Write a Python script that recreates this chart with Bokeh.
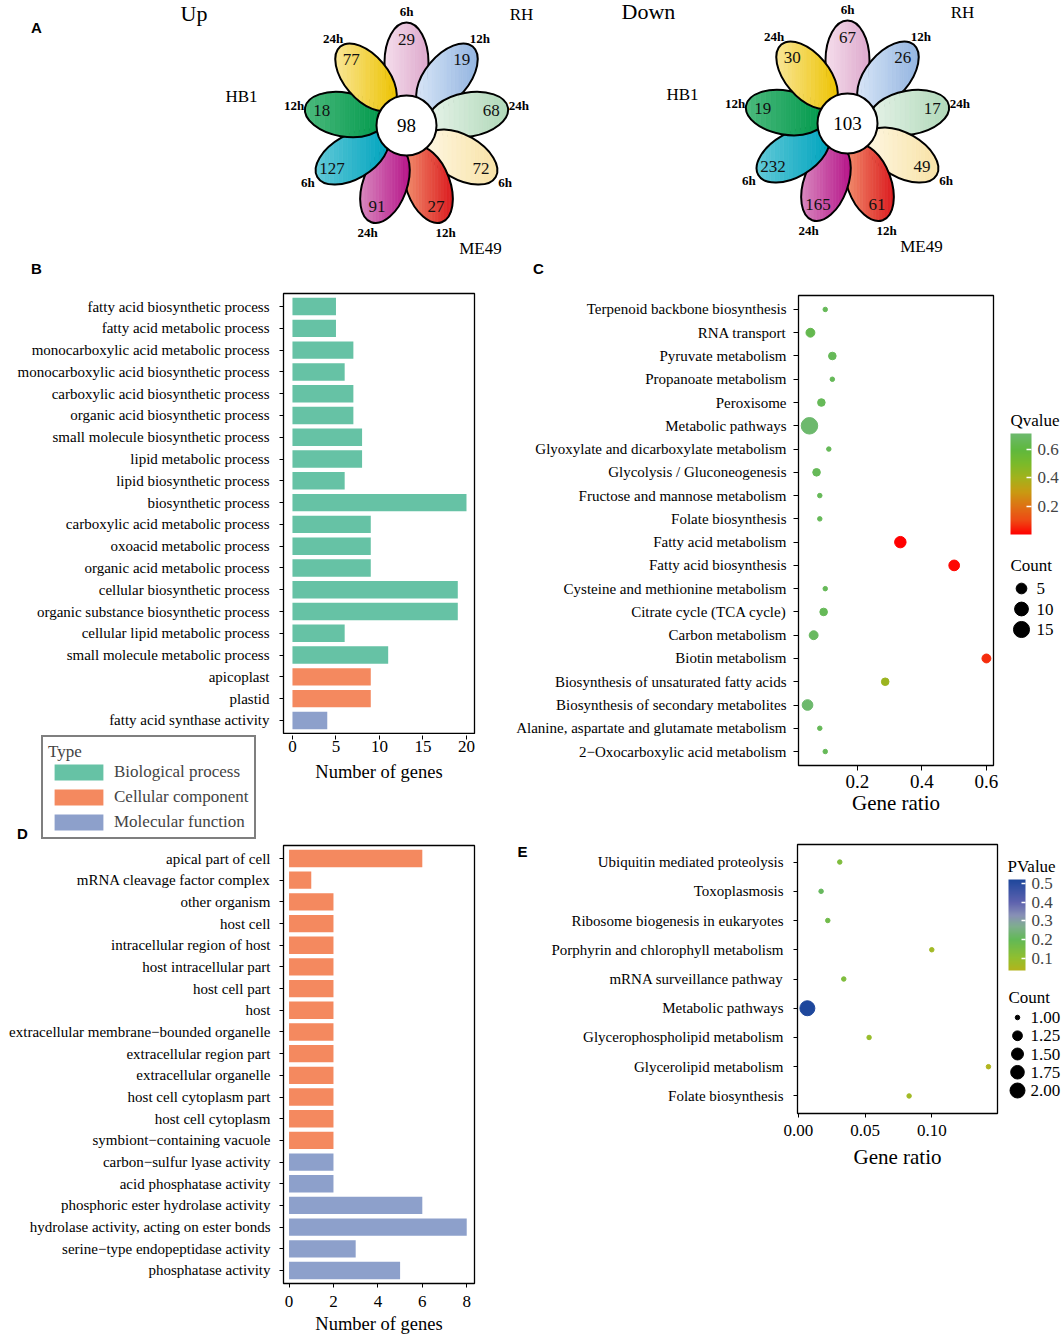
import numpy as np
from bokeh.plotting import figure
from bokeh.layouts import row, column
from bokeh.models import (Range1d, FactorRange, ColumnDataSource, FixedTicker, Legend,
                          LegendItem, ColorBar, LinearColorMapper, PrintfTickFormatter)
from bokeh.core.properties import value
from bokeh.transform import transform
from bokeh.embed import file_html
from bokeh.resources import INLINE

SERIF = "Liberation Serif"
SANS = "Liberation Sans"

# ---------------------------------------------------------------- data
flower_titles = ["Up", "Down"]
strains = ["RH", "ME49", "HB1"]
times = ["6h", "12h", "24h"]
# petal order: RH 6h/12h/24h, ME49 6h/12h/24h, HB1 6h/12h/24h
up_counts = [29, 19, 68, 72, 27, 91, 127, 18, 77]
down_counts = [67, 26, 17, 49, 61, 165, 232, 19, 30]
core_counts = [98, 103]

go_up_terms = [
    "fatty acid biosynthetic process", "fatty acid metabolic process",
    "monocarboxylic acid metabolic process", "monocarboxylic acid biosynthetic process",
    "carboxylic acid biosynthetic process", "organic acid biosynthetic process",
    "small molecule biosynthetic process", "lipid metabolic process",
    "lipid biosynthetic process", "biosynthetic process",
    "carboxylic acid metabolic process", "oxoacid metabolic process",
    "organic acid metabolic process", "cellular biosynthetic process",
    "organic substance biosynthetic process", "cellular lipid metabolic process",
    "small molecule metabolic process", "apicoplast", "plastid",
    "fatty acid synthase activity"]
go_up_counts = [5, 5, 7, 6, 7, 7, 8, 8, 6, 20, 9, 9, 9, 19, 19, 6, 11, 9, 9, 4]
go_up_types = ["Biological process"] * 17 + ["Cellular component"] * 2 + ["Molecular function"]

go_down_terms = [
    "apical part of cell", "mRNA cleavage factor complex", "other organism", "host cell",
    "intracellular region of host", "host intracellular part", "host cell part", "host",
    "extracellular membrane\u2212bounded organelle", "extracellular region part",
    "extracellular organelle", "host cell cytoplasm part", "host cell cytoplasm",
    "symbiont\u2212containing vacuole", "carbon\u2212sulfur lyase activity",
    "acid phosphatase activity", "phosphoric ester hydrolase activity",
    "hydrolase activity, acting on ester bonds", "serine\u2212type endopeptidase activity",
    "phosphatase activity"]
go_down_counts = [6, 1, 2, 2, 2, 2, 2, 2, 2, 2, 2, 2, 2, 2, 2, 2, 6, 8, 3, 5]
go_down_types = ["Cellular component"] * 14 + ["Molecular function"] * 6

kegg_up_terms = [
    "Terpenoid backbone biosynthesis", "RNA transport", "Pyruvate metabolism",
    "Propanoate metabolism", "Peroxisome", "Metabolic pathways",
    "Glyoxylate and dicarboxylate metabolism", "Glycolysis / Gluconeogenesis",
    "Fructose and mannose metabolism", "Folate biosynthesis", "Fatty acid metabolism",
    "Fatty acid biosynthesis", "Cysteine and methionine metabolism",
    "Citrate cycle (TCA cycle)", "Carbon metabolism", "Biotin metabolism",
    "Biosynthesis of unsaturated fatty acids", "Biosynthesis of secondary metabolites",
    "Alanine, aspartate and glutamate metabolism", "2\u2212Oxocarboxylic acid metabolism"]
kegg_up_ratio = [0.100, 0.054, 0.122, 0.122, 0.088, 0.051, 0.111, 0.073, 0.083, 0.083,
                 0.333, 0.500, 0.100, 0.095, 0.064, 0.600, 0.286, 0.045, 0.083, 0.100]
kegg_up_q = [0.66, 0.64, 0.66, 0.66, 0.66, 0.71, 0.66, 0.66, 0.66, 0.66,
             0.00, 0.01, 0.66, 0.66, 0.68, 0.06, 0.42, 0.71, 0.66, 0.66]
kegg_up_count = [1, 3, 2, 1, 2, 16, 1, 2, 1, 1, 6, 5, 1, 2, 3, 3, 2, 5, 1, 1]
count_legend_up = [5, 10, 15]

kegg_down_terms = [
    "Ubiquitin mediated proteolysis", "Toxoplasmosis", "Ribosome biogenesis in eukaryotes",
    "Porphyrin and chlorophyll metabolism", "mRNA surveillance pathway", "Metabolic pathways",
    "Glycerophospholipid metabolism", "Glycerolipid metabolism", "Folate biosynthesis"]
kegg_down_ratio = [0.031, 0.017, 0.022, 0.100, 0.034, 0.0067, 0.053, 0.1425, 0.083]
kegg_down_p = [0.14, 0.21, 0.17, 0.07, 0.14, 0.52, 0.09, 0.04, 0.07]
kegg_down_count = [1, 1, 1, 1, 1, 2, 1, 1, 1]
count_legend_down = [1.00, 1.25, 1.50, 1.75, 2.00]

# ---------------------------------------------------------------- styles
type_order = ["Biological process", "Cellular component", "Molecular function"]
type_colors = {"Biological process": "#66C2A5", "Cellular component": "#F4895F",
               "Molecular function": "#8DA0CB"}
petal_grad = [("#F5DEEC", "#DDA8CC"), ("#D8E6F7", "#93B4E0"), ("#E6F3E8", "#B0D8B9"),
              ("#FEF7E2", "#F8E2A6"), ("#F29270", "#DB1A1E"), ("#D888BE", "#B7158A"),
              ("#62C9D8", "#00A4BE"), ("#4BB97C", "#00994C"), ("#F9E697", "#EDC300")]
q_stops = [(0.0, "#FF0000"), (0.1, "#EE4A14"), (0.2, "#DE7214"), (0.3, "#C99A12"),
           (0.4, "#A3B21C"), (0.5, "#7BBA2A"), (0.6, "#5FB83E"), (0.714, "#6DB96E")]
p_stops = [(0.036, "#B3B41C"), (0.1, "#92BF2E"), (0.2, "#62B956"), (0.27, "#7FAE8E"),
           (0.33, "#8890B6"), (0.4, "#5E62AE"), (0.46, "#3E55A6"), (0.521, "#1E479C")]
COMMON = dict(output_backend="svg", toolbar_location=None, frame_align=False)


def hex2rgb(h):
    h = h.lstrip("#")
    return np.array([int(h[i:i + 2], 16) for i in (0, 2, 4)], float)


def rgb2hex(c):
    c = np.clip(np.round(c), 0, 255).astype(int)
    return "#%02x%02x%02x" % tuple(c)


def make_palette(stops, n=256):
    vals = np.array([s[0] for s in stops])
    cols = np.array([hex2rgb(s[1]) for s in stops])
    ts = np.linspace(vals[0], vals[-1], n)
    return [rgb2hex([np.interp(t, vals, cols[:, k]) for k in range(3)]) for t in ts]


def size_scale(c, cmin, cmax, dmin, dmax):
    c = np.asarray(c, float)
    return dmin + (dmax - dmin) * np.sqrt((c - cmin) / (cmax - cmin))


def blank_fig(w, h, xr, yr):
    p = figure(width=w, height=h, x_range=Range1d(*xr), y_range=Range1d(*yr),
               x_axis_type=None, y_axis_type=None, min_border=0, outline_line_color=None,
               **COMMON)
    p.grid.visible = False
    return p


# ---------------------------------------------------------------- panel A
pA = blank_fig(1061, 278, (0, 1061), (-278, 0))

flower_centers = [(406, 125), (847, 123)]
PET_D, PET_A, PET_B = 63, 40, 22
NUM_D, TIME_D, CORE_R = 86, 114, 30
strain_offsets = {"RH": (115, -111), "ME49": (74, 123), "HB1": (-165, -29)}
title_offset = (-226, -112)


def ellipse_poly(cx, cy, a, b, th, n=120):
    t = np.linspace(0, 2 * np.pi, n, endpoint=False)
    x = cx + a * np.cos(t) * np.cos(th) - b * np.sin(t) * np.sin(th)
    y = cy + a * np.cos(t) * np.sin(th) + b * np.sin(t) * np.cos(th)
    return list(zip(x, y))


def clip_strip(poly, xl, xr):
    def half(pts, inside, x0):
        out = []
        n = len(pts)
        for i in range(n):
            P, Q = pts[i], pts[(i + 1) % n]
            iP, iQ = inside(P), inside(Q)
            if iP:
                out.append(P)
            if iP != iQ:
                t = (x0 - P[0]) / (Q[0] - P[0])
                out.append((x0, P[1] + t * (Q[1] - P[1])))
        return out
    pts = half(poly, lambda p: p[0] >= xl, xl)
    if pts:
        pts = half(pts, lambda p: p[0] <= xr, xr)
    return pts


for f, (counts, core) in enumerate([(up_counts, core_counts[0]), (down_counts, core_counts[1])]):
    fx, fy = flower_centers[f][0], -flower_centers[f][1]
    nx, ny, nt, tx, ty, tt = [], [], [], [], [], []
    for i in range(9):
        th = np.radians(90 - 40 * i)
        cx, cy = fx + PET_D * np.cos(th), fy + PET_D * np.sin(th)
        poly = ellipse_poly(cx, cy, PET_A, PET_B, th)
        xs_all = [p[0] for p in poly]
        x0, x1 = min(xs_all), max(xs_all)
        M = 16
        edges = np.linspace(x0, x1, M + 1)
        cl, cr = hex2rgb(petal_grad[i][0]), hex2rgb(petal_grad[i][1])
        sx, sy, sc = [], [], []
        for k in range(M):
            seg = clip_strip(poly, edges[k], edges[k + 1])
            if len(seg) < 3:
                continue
            frac = (k + 0.5) / M
            sx.append([p[0] for p in seg])
            sy.append([p[1] for p in seg])
            sc.append(rgb2hex(cl + (cr - cl) * frac))
        pA.patches(xs=sx, ys=sy, fill_color=sc, line_color=sc, line_width=0.7)
        pA.ellipse(x=[cx], y=[cy], width=2 * PET_A, height=2 * PET_B, angle=th,
                   fill_color=None, line_color="black", line_width=2)
        nx.append(fx + NUM_D * np.cos(th)); ny.append(fy + NUM_D * np.sin(th)); nt.append(str(counts[i]))
        tx.append(fx + TIME_D * np.cos(th)); ty.append(fy + TIME_D * np.sin(th)); tt.append(times[i % 3])
    pA.circle(x=[fx], y=[fy], radius=CORE_R, fill_color="white", line_color="black", line_width=2)
    pA.text(x=nx, y=ny, text=nt, text_font=value(SERIF), text_font_size="17px",
            text_align="center", text_baseline="middle", text_color="#111111")
    pA.text(x=tx, y=ty, text=tt, text_font=value(SERIF), text_font_size="13px",
            text_font_style="bold", text_align="center", text_baseline="middle")
    pA.text(x=[fx], y=[fy], text=[str(core)], text_font=value(SERIF), text_font_size="19px",
            text_align="center", text_baseline="middle")
    pA.text(x=[fx + strain_offsets[s][0] for s in strains],
            y=[fy - strain_offsets[s][1] for s in strains], text=strains,
            text_font=value(SERIF), text_font_size="17px", text_align="center",
            text_baseline="middle")
    pA.text(x=[fx + title_offset[0]], y=[fy - title_offset[1]], text=[flower_titles[f]],
            text_font=value(SERIF), text_font_size="22px", text_align="left",
            text_baseline="middle")

pA.text(x=[36, 36, 538], y=[-27, -268, -268], text=["A", "B", "C"], text_font=value(SANS),
        text_font_size="15px", text_font_style="bold", text_align="center",
        text_baseline="middle")


# ---------------------------------------------------------------- helpers
def style_frame(p):
    p.xgrid.visible = False
    p.ygrid.visible = False
    p.outline_line_color = "black"
    p.outline_line_width = 1.3


def style_axis(ax, size, standoff, tick_out=4):
    ax.axis_line_color = None
    ax.major_tick_line_color = "black"
    ax.major_tick_line_width = 1
    ax.major_tick_out = tick_out
    ax.major_tick_in = 0
    ax.minor_tick_line_color = None
    ax.major_label_text_font = SERIF
    ax.major_label_text_color = "black"
    ax.major_label_text_font_size = size
    ax.major_label_standoff = standoff


def style_xlabel(ax, text, size, standoff):
    ax.axis_label = text
    ax.axis_label_text_font = SERIF
    ax.axis_label_text_font_size = size
    ax.axis_label_text_font_style = "normal"
    ax.axis_label_text_color = "black"
    ax.axis_label_standoff = standoff


def add_bars(p, terms, counts, types):
    rend = {}
    for t in type_order:
        idx = [i for i, tt in enumerate(types) if tt == t]
        if not idx:
            continue
        src = ColumnDataSource(dict(y=[terms[i] for i in idx], right=[counts[i] for i in idx]))
        rend[t] = p.hbar(y="y", right="right", left=0, height=0.8, source=src,
                         fill_color=type_colors[t], line_color=None)
    return rend


def cat_range(terms, pad=0.1):
    return FactorRange(factors=terms[::-1], range_padding=pad, range_padding_units="absolute")


# ---------------------------------------------------------------- panel B
xB = Range1d(-1.03, 20.92)
pB = figure(width=508, height=456, x_range=xB, y_range=cat_range(go_up_terms),
            x_axis_location=None, min_border_left=283, min_border_right=34,
            min_border_top=15, min_border_bottom=1, **COMMON)
add_bars(pB, go_up_terms, go_up_counts, go_up_types)
style_frame(pB)
style_axis(pB.yaxis[0], "15px", 10)

pBx = figure(width=225, height=110, x_range=xB, y_range=Range1d(0, 1), y_axis_location=None,
             min_border_left=0, min_border_right=34, min_border_top=0, min_border_bottom=109,
             **COMMON)
pBx.grid.visible = False
pBx.outline_line_color = None
pBx.xaxis.ticker = FixedTicker(ticks=[0, 5, 10, 15, 20])
style_axis(pBx.xaxis[0], "17px", 1)
style_xlabel(pBx.xaxis[0], "Number of genes", "18.5px", 7)

# legend strip under the B labels (also holds the "D" panel letter)
legT = blank_fig(283, 110, (0, 283), (0, 110))
dummy = {t: legT.hbar(y=[-100], right=[1], left=0, height=0.8, fill_color=type_colors[t],
                      line_color=None)
         for t in type_order}
legB = Legend(items=[LegendItem(label=t, renderers=[dummy[t]]) for t in type_order],
              location=(41, 5), title="Type", title_text_font=SERIF,
              title_text_font_size="17px", title_text_font_style="normal", title_standoff=0,
              label_text_font=SERIF, label_text_font_size="17px", label_standoff=5,
              glyph_width=61, glyph_height=20, label_height=20, spacing=5, padding=5,
              margin=0, border_line_color="black", border_line_width=2,
              background_fill_color="white", background_fill_alpha=1)
legT.add_layout(legB, "center")
legT.text(x=[22], y=[11], text=["D"], text_font=value(SANS), text_font_size="15px",
          text_font_style="bold", text_align="center", text_baseline="middle")

# ---------------------------------------------------------------- panel D
pD = figure(width=508, height=493, x_range=Range1d(-0.25, 8.35), y_range=cat_range(go_down_terms),
            min_border_left=283, min_border_right=34, min_border_top=1, min_border_bottom=54,
            **COMMON)
add_bars(pD, go_down_terms, go_down_counts, go_down_types)
style_frame(pD)
style_axis(pD.yaxis[0], "15px", 9)
pD.xaxis.ticker = FixedTicker(ticks=[0, 2, 4, 6, 8])
style_axis(pD.xaxis[0], "17px", 8)
style_xlabel(pD.xaxis[0], "Number of genes", "18.5px", 4)

# ---------------------------------------------------------------- panel C
palQ = make_palette(q_stops)
mapQ = LinearColorMapper(palette=palQ, low=q_stops[0][0], high=q_stops[-1][0])
srcC = ColumnDataSource(dict(term=kegg_up_terms, ratio=kegg_up_ratio, q=kegg_up_q,
                             size=size_scale(kegg_up_count, 1, 16, 4.5, 16.5)))
pC = figure(width=492, height=564, x_range=Range1d(0.017, 0.622), y_range=cat_range(kegg_up_terms),
            min_border_left=290, min_border_right=7, min_border_top=17, min_border_bottom=77,
            **COMMON)
pC.scatter(x="ratio", y="term", size="size", source=srcC,
           fill_color=transform("q", mapQ), line_color=transform("q", mapQ))
style_frame(pC)
style_axis(pC.yaxis[0], "15px", 7, tick_out=5)
pC.xaxis.ticker = FixedTicker(ticks=[0.2, 0.4, 0.6])
pC.xaxis.formatter = PrintfTickFormatter(format="%.1f")
style_axis(pC.xaxis[0], "19px", 4, tick_out=5)
style_xlabel(pC.xaxis[0], "Gene ratio", "21px", 0)

legC = blank_fig(61, 564, (1000, 1061), (-842, -278))
cbQ = ColorBar(color_mapper=mapQ, ticker=FixedTicker(ticks=[0.2, 0.4, 0.6]),
               formatter=PrintfTickFormatter(format="%.1f"), width=21, height=101,
               location=(10, 842 - 534), orientation="vertical",
               major_label_text_font=SERIF, major_label_text_font_size="17px",
               major_tick_line_color="white", major_tick_line_width=1.5,
               major_tick_in=5, major_tick_out=0,
               bar_line_color=None, border_line_color=None, padding=0, label_standoff=6,
               margin=0)
legC.add_layout(cbQ, "center")
legC.text(x=[1010, 1010], y=[-420, -565], text=["Qvalue", "Count"], text_font=value(SERIF),
          text_font_size="17px", text_align="left", text_baseline="middle")
cy0, cstep = -588, -20.5
legC.scatter(x=[1021] * len(count_legend_up),
             y=[cy0 + cstep * i for i in range(len(count_legend_up))],
             size=size_scale(count_legend_up, 1, 16, 4.5, 16.5), color="black")
legC.text(x=[1036] * len(count_legend_up),
          y=[cy0 + cstep * i for i in range(len(count_legend_up))],
          text=[str(c) for c in count_legend_up], text_font=value(SERIF),
          text_font_size="17px", text_align="left", text_baseline="middle")

# ---------------------------------------------------------------- panel E
palP = make_palette(p_stops)
mapP = LinearColorMapper(palette=palP, low=p_stops[0][0], high=p_stops[-1][0])
srcE = ColumnDataSource(dict(term=kegg_down_terms, ratio=kegg_down_ratio, p=kegg_down_p,
                             size=size_scale(kegg_down_count, 1, 2, 4.5, 15)))
pE = figure(width=460, height=495, x_range=Range1d(-0.0007, 0.1493),
            y_range=cat_range(kegg_down_terms),
            min_border_left=257, min_border_right=3, min_border_top=2, min_border_bottom=224,
            **COMMON)
pE.scatter(x="ratio", y="term", size="size", source=srcE,
           fill_color=transform("p", mapP), line_color=transform("p", mapP))
style_frame(pE)
style_axis(pE.yaxis[0], "15px", 10)
pE.xaxis.ticker = FixedTicker(ticks=[0.0, 0.05, 0.10])
pE.xaxis.formatter = PrintfTickFormatter(format="%.2f")
style_axis(pE.xaxis[0], "17px", 7)
style_xlabel(pE.xaxis[0], "Gene ratio", "21px", 6)

pEl = blank_fig(32, 495, (508, 540), (-1337, -842))
pEl.text(x=[522], y=[-851], text=["E"], text_font=value(SANS), text_font_size="15px",
         text_font_style="bold", text_align="center", text_baseline="middle")

legE = blank_fig(61, 495, (1000, 1061), (-1337, -842))
cbP = ColorBar(color_mapper=mapP, ticker=FixedTicker(ticks=[0.1, 0.2, 0.3, 0.4, 0.5]),
               formatter=PrintfTickFormatter(format="%.1f"), width=17, height=91,
               location=(8, 1337 - 970), orientation="vertical",
               major_label_text_font=SERIF, major_label_text_font_size="17px",
               major_tick_line_color="white", major_tick_line_width=1.5,
               major_tick_in=4, major_tick_out=0,
               bar_line_color=None, border_line_color=None, padding=0, label_standoff=6,
               margin=0)
legE.add_layout(cbP, "center")
legE.text(x=[1007, 1008], y=[-866, -997], text=["PValue", "Count"], text_font=value(SERIF),
          text_font_size="17px", text_align="left", text_baseline="middle")
ey0, estep = -1017, -18.25
legE.scatter(x=[1017] * len(count_legend_down),
             y=[ey0 + estep * i for i in range(len(count_legend_down))],
             size=size_scale(count_legend_down, 1, 2, 4.5, 15), color="black")
legE.text(x=[1030] * len(count_legend_down),
          y=[ey0 + estep * i for i in range(len(count_legend_down))],
          text=["%.2f" % c for c in count_legend_down], text_font=value(SERIF),
          text_font_size="17px", text_align="left", text_baseline="middle")

# ---------------------------------------------------------------- layout
left_block = column(pB, row(legT, pBx), pD)
right_block = column(row(pC, legC), row(pEl, pE, legE))
layout = column(pA, row(left_block, right_block))
open("out.html", "w").write(file_html(layout, INLINE))
